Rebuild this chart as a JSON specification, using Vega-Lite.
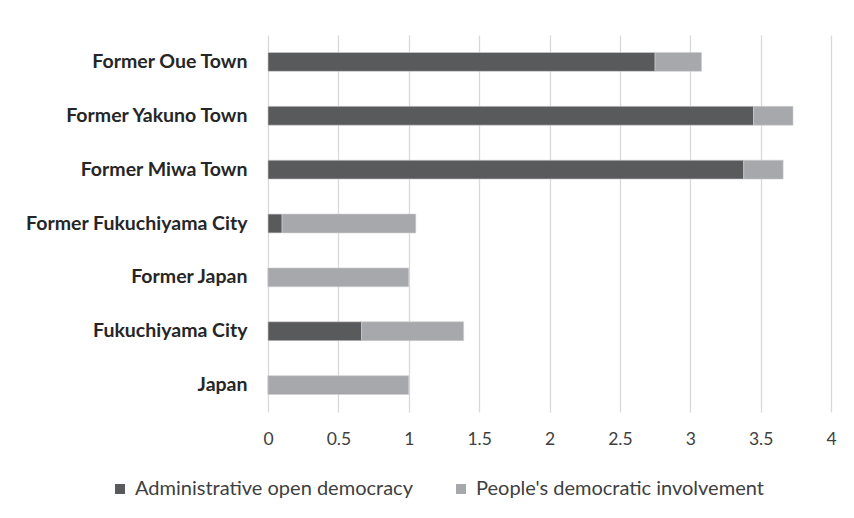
{
  "$schema": "https://vega.github.io/schema/vega-lite/v6.json",
  "width": 563,
  "height": 377,
  "autosize": "none",
  "padding": {"left": 268, "top": 35, "right": 23, "bottom": 106},
  "background": "white",
  "config": {"view": {"stroke": null}},
  "data": {
    "values": [
      {"place": "Former Oue Town", "series": "Administrative open democracy", "value": 2.75},
      {"place": "Former Oue Town", "series": "People's democratic involvement", "value": 0.33},
      {"place": "Former Yakuno Town", "series": "Administrative open democracy", "value": 3.45},
      {"place": "Former Yakuno Town", "series": "People's democratic involvement", "value": 0.28},
      {"place": "Former Miwa Town", "series": "Administrative open democracy", "value": 3.38},
      {"place": "Former Miwa Town", "series": "People's democratic involvement", "value": 0.28},
      {"place": "Former Fukuchiyama City", "series": "Administrative open democracy", "value": 0.1},
      {"place": "Former Fukuchiyama City", "series": "People's democratic involvement", "value": 0.95},
      {"place": "Former Japan", "series": "Administrative open democracy", "value": 0},
      {"place": "Former Japan", "series": "People's democratic involvement", "value": 1.0},
      {"place": "Fukuchiyama City", "series": "Administrative open democracy", "value": 0.665},
      {"place": "Fukuchiyama City", "series": "People's democratic involvement", "value": 0.725},
      {"place": "Japan", "series": "Administrative open democracy", "value": 0},
      {"place": "Japan", "series": "People's democratic involvement", "value": 1.0}
    ]
  },
  "mark": {"type": "bar", "stroke": "#cfcfd1", "strokeWidth": 0.6},
  "encoding": {
    "y": {
      "field": "place", "type": "nominal",
      "sort": ["Former Oue Town", "Former Yakuno Town", "Former Miwa Town", "Former Fukuchiyama City", "Former Japan", "Fukuchiyama City", "Japan"],
      "scale": {"paddingInner": 0.65, "paddingOuter": 0.325},
      "axis": {"title": null, "domain": false, "ticks": false, "labelPadding": 21, "labelFont": "Lato", "labelFontWeight": "bold", "labelFontSize": 19.5, "labelColor": "#262626", "labelLimit": 300}
    },
    "x": {
      "field": "value", "type": "quantitative", "stack": "zero",
      "scale": {"domain": [0, 4], "nice": false},
      "axis": {"title": null, "values": [0, 0.5, 1, 1.5, 2, 2.5, 3, 3.5, 4], "format": "~g", "domain": false, "ticks": false, "gridColor": "#d9d9d9", "gridWidth": 1.3, "labelPadding": 18, "labelFont": "Lato", "labelFontSize": 17.5, "labelColor": "#404040", "labelFlush": false}
    },
    "color": {
      "field": "series", "type": "nominal",
      "scale": {"domain": ["Administrative open democracy", "People's democratic involvement"], "range": ["#595a5c", "#a7a8ab"]},
      "legend": {"title": null, "orient": "none", "direction": "horizontal", "legendX": -158, "legendY": 444, "symbolType": "square", "symbolSize": 100, "symbolStrokeWidth": 0, "labelFont": "Lato", "labelFontSize": 20, "labelColor": "#404040", "labelOffset": 5, "columnPadding": 38, "labelLimit": 400}
    },
    "order": {"field": "series", "sort": "ascending"}
  }
}
